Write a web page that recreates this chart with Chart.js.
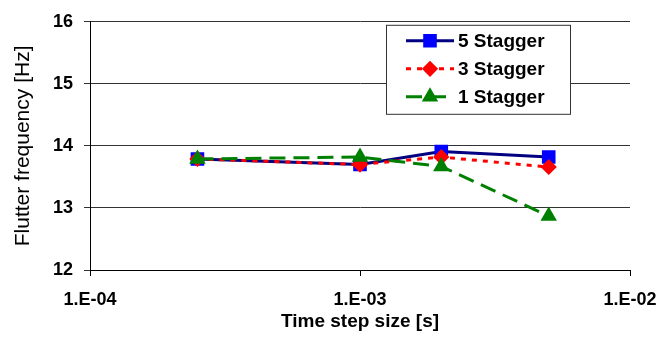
<!DOCTYPE html>
<html>
<head>
<meta charset="utf-8">
<script src="https://cdn.jsdelivr.net/npm/chart.js@4"></script>
<style>
    body { margin: 0; background: #fff; }
    #wrap { width: 659px; height: 343px; }
</style>
</head>
<body>
<div id="wrap"><canvas id="flutterChart" width="659" height="343"></canvas></div>
<script>
// time step sizes [s]
const timeSteps = [2.5e-4, 1e-3, 2e-3, 5e-3];
// flutter frequency [Hz]
const stagger5 = [13.79, 13.70, 13.91, 13.82];
const stagger3 = [13.79, 13.70, 13.82, 13.66];
const stagger1 = [13.79, 13.82, 13.67, 12.87];
const seriesLabels = ['5 Stagger', '3 Stagger', '1 Stagger'];
const xTickValues = [1e-4, 1e-3, 1e-2];
const xTickLabels = ['1.E-04', '1.E-03', '1.E-02'];
const yTickValues = [12, 13, 14, 15, 16];

const FONT = '"Liberation Sans", Arial, sans-serif';
const toPoints = (ys) => ys.map((y, i) => ({ x: timeSteps[i], y: y }));

// legend drawn inside the plot area, like the original
const boxLegend = {
    id: 'boxLegend',
    afterDatasetsDraw(chart) {
        const ctx = chart.ctx;
        const area = chart.chartArea;
        const left = area.left + 296, top = area.top + 3;
        const w = 184, h = 89;
        ctx.save();
        ctx.fillStyle = '#fff';
        ctx.fillRect(left, top, w, h);
        ctx.strokeStyle = '#333';
        ctx.lineWidth = 1;
        ctx.strokeRect(left + 0.5, top + 0.5, w, h);

        chart.data.datasets.forEach((ds, i) => {
            const y = top + 16 + i * 28;
            const x0 = left + 20, x1 = left + 68;
            ctx.strokeStyle = ds.borderColor;
            ctx.lineWidth = ds.borderWidth;
            ctx.setLineDash(ds.borderDash || []);
            ctx.beginPath();
            ctx.moveTo(x0, y);
            ctx.lineTo(x1, y);
            ctx.stroke();
            ctx.setLineDash([]);
            ctx.fillStyle = ds.pointBackgroundColor;
            ctx.strokeStyle = ds.pointBorderColor;
            Chart.helpers.drawPoint(ctx, {
                pointStyle: ds.pointStyle,
                radius: ds.pointRadius,
                rotation: 0,
                borderWidth: 1
            }, (x0 + x1) / 2, y);
            ctx.fillStyle = '#000';
            ctx.font = 'bold 19px ' + FONT;
            ctx.textBaseline = 'middle';
            ctx.textAlign = 'left';
            ctx.fillText(ds.label, x1 + 4, y + 1);
        });
        ctx.restore();
    }
};

const ctx = document.getElementById('flutterChart').getContext('2d');
const chart = new Chart(ctx, {
    type: 'line',
    data: {
        datasets: [{
            label: seriesLabels[0],
            data: toPoints(stagger5),
            borderColor: '#000080',
            borderWidth: 3,
            pointStyle: 'rect',
            pointRadius: 7.5,
            pointBackgroundColor: '#0000ff',
            pointBorderColor: '#0000ff',
            order: 3
        }, {
            label: seriesLabels[1],
            data: toPoints(stagger3),
            borderColor: '#ff0000',
            borderWidth: 3,
            borderDash: [5, 6],
            pointStyle: 'rectRot',
            pointRadius: 6,
            pointBackgroundColor: '#ff0000',
            pointBorderColor: '#ff0000',
            order: 2
        }, {
            label: seriesLabels[2],
            data: toPoints(stagger1),
            borderColor: '#008000',
            borderWidth: 3,
            borderDash: [16, 8],
            pointStyle: 'triangle',
            pointRadius: 6.5,
            pointBackgroundColor: '#008000',
            pointBorderColor: '#008000',
            order: 1
        }]
    },
    options: {
        responsive: false,
        animation: false,
        layout: {
            padding: { top: 12, right: 29, left: 0, bottom: 0 }
        },
        plugins: {
            legend: { display: false },
            tooltip: { enabled: false }
        },
        scales: {
            x: {
                type: 'logarithmic',
                min: 1e-4,
                max: 1e-2,
                afterBuildTicks: (scale) => {
                    scale.ticks = xTickValues.map(v => ({ value: v }));
                },
                afterFit: (scale) => {
                    scale.height = 73;
                    scale.paddingLeft = 0;
                    scale.paddingRight = 0;
                },
                grid: {
                    drawOnChartArea: false,
                    drawTicks: true,
                    tickLength: 6,
                    color: '#000'
                },
                border: { color: '#000', width: 1 },
                ticks: {
                    color: '#000',
                    padding: 13,
                    maxRotation: 0,
                    font: { family: FONT, size: 18, weight: 'bold' },
                    callback: (value) => xTickLabels[xTickValues.indexOf(value)]
                },
                title: {
                    display: true,
                    text: 'Time step size [s]',
                    color: '#000',
                    font: { family: FONT, size: 19, weight: 'bold' },
                    padding: { top: 0, bottom: 10 }
                }
            },
            y: {
                min: 12,
                max: 16,
                afterBuildTicks: (scale) => {
                    scale.ticks = yTickValues.map(v => ({ value: v }));
                },
                afterFit: (scale) => { scale.width = 90; },
                grid: {
                    color: '#333',
                    tickLength: 6,
                    lineWidth: 1
                },
                border: { color: '#000', width: 1 },
                ticks: {
                    color: '#000',
                    padding: 11,
                    font: { family: FONT, size: 18, weight: 'bold' }
                },
                title: {
                    display: true,
                    text: 'Flutter frequency [Hz]',
                    color: '#000',
                    font: { family: FONT, size: 21 },
                    padding: { top: 11, bottom: 0 }
                }
            }
        }
    },
    plugins: [boxLegend]
});
</script>
</body>
</html>
